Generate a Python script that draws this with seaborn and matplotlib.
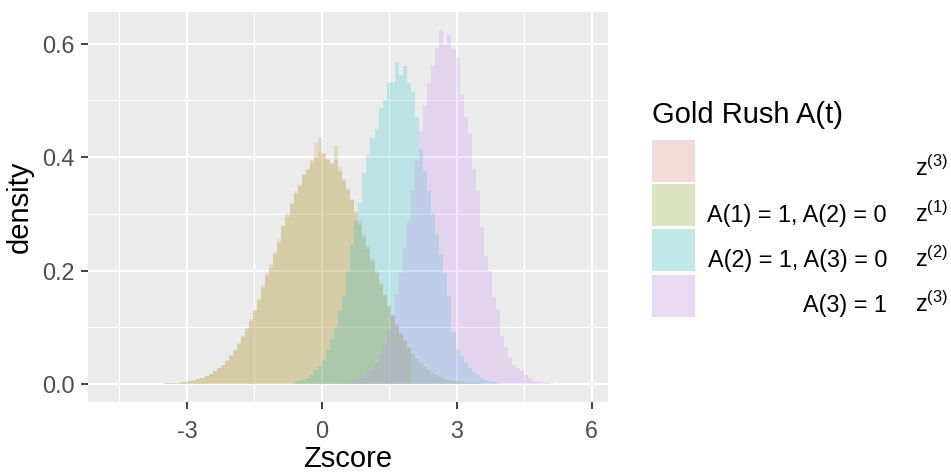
import numpy as np
import pandas as pd
import matplotlib
matplotlib.use("Agg")
import matplotlib.pyplot as plt
import seaborn as sns
from matplotlib.patches import Rectangle

# ---------------- data (bin heights) ----------------
BIN_START = -3.78
BIN_WIDTH = 0.09
N_BINS = 100

series_names = ["none", "A(1) = 1, A(2) = 0", "A(2) = 1, A(3) = 0", "A(3) = 1"]
series_sup = ["(3)", "(1)", "(2)", "(3)"]
series_colors = ["#F8766D", "#7CAE00", "#00BFC4", "#C77CFF"]

red_start = 0
red_density = [0.0005, 0.0006, 0.0008, 0.0010, 0.0013, 0.0018, 0.0024, 0.0031, 0.0041, 0.0053,
               0.0069, 0.0089, 0.0113, 0.0144, 0.0182, 0.0226, 0.0280, 0.0343, 0.0418, 0.0503,
               0.0602, 0.0716, 0.0843, 0.0985, 0.1141, 0.1310, 0.1500, 0.1750, 0.1960, 0.2120,
               0.2330, 0.2550, 0.2800, 0.2950, 0.3200, 0.3400, 0.3520, 0.3700, 0.3780, 0.3900,
               0.4250, 0.4100, 0.4050, 0.3960, 0.3880, 0.3950, 0.3830, 0.3620, 0.3450, 0.3270,
               0.3050, 0.2870, 0.2650, 0.2430, 0.2210, 0.1990, 0.1780, 0.1580, 0.1390, 0.1210,
               0.1050, 0.0900, 0.0770, 0.0650]

green_start = 0
green_density = [0.0002, 0.0003, 0.0005, 0.0009, 0.0013, 0.0017, 0.0023, 0.0030, 0.0040, 0.0052,
                 0.0068, 0.0087, 0.0111, 0.0141, 0.0178, 0.0221, 0.0274, 0.0336, 0.0409, 0.0493,
                 0.0590, 0.0701, 0.0826, 0.0965, 0.1118, 0.1285, 0.1480, 0.1700, 0.1900, 0.2050,
                 0.2300, 0.2480, 0.2780, 0.3000, 0.3180, 0.3350, 0.3500, 0.3680, 0.3800, 0.3950,
                 0.4000, 0.4350, 0.4070, 0.3950, 0.3900, 0.4200, 0.3750, 0.3600, 0.3420, 0.3250,
                 0.3020, 0.2810, 0.2600, 0.2385, 0.2167, 0.1954, 0.1747, 0.1550, 0.1364, 0.1191,
                 0.1031, 0.0885, 0.0754, 0.0637, 0.0534, 0.0444, 0.0367, 0.0300, 0.0243, 0.0196,
                 0.0156, 0.0124, 0.0097, 0.0076, 0.0059, 0.0045, 0.0034, 0.0026, 0.0019, 0.0014,
                 0.0011]

teal_start = 35
teal_density = [0.004, 0.005, 0.007, 0.010, 0.016, 0.024, 0.032, 0.043, 0.060, 0.080,
                0.100, 0.128, 0.155, 0.200, 0.245, 0.290, 0.320, 0.372, 0.405, 0.434,
                0.450, 0.487, 0.500, 0.530, 0.533, 0.567, 0.545, 0.560, 0.530, 0.515,
                0.470, 0.415, 0.375, 0.340, 0.300, 0.265, 0.230, 0.195, 0.155, 0.092,
                0.060, 0.050, 0.037, 0.028, 0.021, 0.016, 0.011, 0.007, 0.005, 0.003,
                0.002]

purple_start = 45
purple_density = [0.0005, 0.0008, 0.0014, 0.0023, 0.0036, 0.0056, 0.0085, 0.0128, 0.0187, 0.0269,
                  0.0378, 0.0522, 0.0707, 0.0940, 0.1224, 0.1562, 0.1954, 0.2396, 0.2883, 0.3398,
                  0.3927, 0.4454, 0.4900, 0.5300, 0.5600, 0.5930, 0.6240, 0.6000, 0.6150, 0.5900,
                  0.5770, 0.5100, 0.4700, 0.4400, 0.3800, 0.3400, 0.2770, 0.2250, 0.2000, 0.1540,
                  0.1300, 0.0850, 0.0650, 0.0450, 0.0340, 0.0280, 0.0230, 0.0160, 0.0100, 0.0060,
                  0.0050, 0.0040, 0.0030, 0.0020]

x_ticks = [-3, 0, 3, 6]
x_minor = [-4.5, -1.5, 1.5, 4.5]
y_ticks = [0.0, 0.2, 0.4, 0.6]
y_minor = [0.1, 0.3, 0.5]
y_tick_labels = ["0.0", "0.2", "0.4", "0.6"]

# ---------------- styling ----------------
sns.set_style("darkgrid", {"axes.facecolor": "#EBEBEB", "grid.color": "white"})
plt.rcParams["font.family"] = ["Liberation Sans", "DejaVu Sans"]
plt.rcParams["mathtext.fontset"] = "custom"
plt.rcParams["mathtext.rm"] = "Liberation Sans"

W, H = 951, 473
fig = plt.figure(figsize=(W / 100, H / 100), dpi=100)
fig.patch.set_facecolor("white")
ax = fig.add_axes([88 / W, 1 - 401.7 / H, 520 / W, 390 / H])

edges = [float(e) for e in BIN_START + BIN_WIDTH * np.arange(N_BINS + 1)]

series = [(red_start, red_density), (green_start, green_density),
          (teal_start, teal_density), (purple_start, purple_density)]

for (start, dens), col, name in zip(series, series_colors, series_names):
    idx = start + np.arange(len(dens))
    df = pd.DataFrame({"z": BIN_START + BIN_WIDTH * (idx + 0.5), "density": dens})
    sns.histplot(data=df, x="z", weights="density", bins=edges, stat="count",
                 element="step", fill=True, color=col, alpha=0.2, linewidth=0,
                 edgecolor="none", ax=ax)

ax.set_xlim(-5.2, 6.36)
ax.set_ylim(-0.0312, 0.6565)
ax.set_xticks(x_ticks)
ax.set_xticklabels([str(t) for t in x_ticks])
ax.set_xticks(x_minor, minor=True)
ax.set_yticks(y_ticks)
ax.set_yticklabels(y_tick_labels)
ax.set_yticks(y_minor, minor=True)
ax.set_axisbelow(True)
ax.grid(which="major", color="white", linewidth=1.5)
ax.grid(which="minor", color="white", linewidth=0.75)
for s in ax.spines.values():
    s.set_visible(False)
ax.tick_params(which="major", length=5, width=1.3, color="#333333",
               labelcolor="#4D4D4D", labelsize=16.8, bottom=True, left=True)
ax.tick_params(axis="y", pad=4.5)
ax.tick_params(axis="x", pad=8)
ax.tick_params(which="minor", length=0)

ax.set_xlabel("Zscore", fontsize=21, color="black")
ax.set_ylabel("density", fontsize=21, color="black")
ax.xaxis.set_label_coords(0.5, -0.112)
ax.yaxis.set_label_coords(-0.104, 0.5)

# ---------------- legend (drawn in figure pixels) ----------------
def fx(px):
    return px / W

def fy(py):
    return 1 - py / H

fig.text(fx(652), fy(123), "Gold Rush A(t)", fontsize=21, color="black",
         ha="left", va="baseline")
key_x, key_w, key_h = 652, 43, 42
for i, (col, name, sup) in enumerate(zip(series_colors, series_names, series_sup)):
    top = 139.5 + 45 * i
    fig.add_artist(Rectangle((fx(key_x), fy(top + key_h)), key_w / W, key_h / H,
                             transform=fig.transFigure, facecolor="#F2F2F2",
                             edgecolor="none"))
    fig.add_artist(Rectangle((fx(key_x), fy(top + key_h)), key_w / W, key_h / H,
                             transform=fig.transFigure, facecolor=col, alpha=0.2,
                             edgecolor="none"))
    base = top + key_h / 2 + 16
    if name != "none":
        fig.text(fx(887), fy(base), name, fontsize=16.8, color="black",
                 ha="right", va="baseline")
    fig.text(fx(915), fy(base), r"$\mathregular{z^{" + sup + r"}}$", fontsize=16.8,
             color="black", ha="left", va="baseline")

fig.savefig("out.png", dpi=100)
